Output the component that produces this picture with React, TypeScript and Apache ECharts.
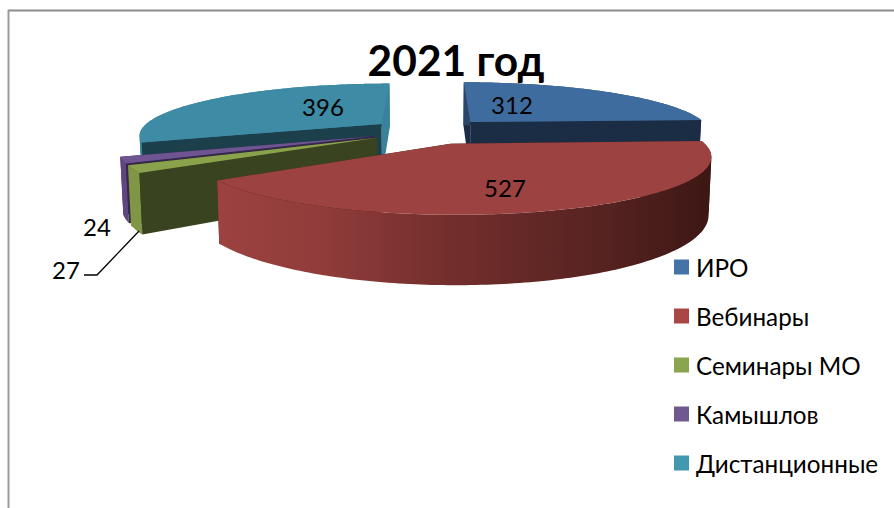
import React, { useEffect, useRef } from "react";
import * as echarts from "echarts";

const titleText = "2021 год";
const categories = ["ИРО", "Вебинары", "Семинары МО", "Камышлов", "Дистанционные"];
const values = [312, 527, 27, 24, 396];
const topColors = ["#3F6C9E", "#9C4240", "#8AA24B", "#6F5492", "#3E8BA5"];
const legendColors = ["#4572A7", "#AA4643", "#89A54E", "#71588F", "#4198AF"];
const innerColors = ["#1B2D45", "#3F1917", "#3A431F", "#35264B", "#1C3F4C"];
const outerColors = ["#2A4768", "#9C4240", "#7F9646", "#5F4680", "#3A8299"];
const paintOrder = [4, 0, 3, 2, 1];
const labelAt: number[][] = [[512, 104], [505, 187], [66, 269], [97, 226], [323, 106]];

const FONT = "Lato, 'Noto Sans', sans-serif";
const VX = 430, VY = 131, RX = 242, RY = 51, K = 0.2, H = 53, EXPLODE = 0.25;
const total = values.reduce((a, b) => a + b, 0);
const rad = (d: number) => (d * Math.PI) / 180;

function angles(i: number) {
  let s = 0;
  for (let j = 0; j < i; j++) s += values[j];
  return [(s / total) * 360, ((s + values[i]) / total) * 360];
}

function project(X: number, Z: number, bottom: boolean) {
  const s = 1 / (1 + K * Z);
  let x = VX + RX * X * s;
  let y = VY - RY * Z * s;
  if (bottom) {
    x = VX + (x - VX) * 0.99;
    y += H * s;
  }
  return [x, y];
}

function renderSlice(i: number) {
  const [a0, a1] = angles(i);
  const mid = rad((a0 + a1) / 2);
  const ox = EXPLODE * Math.sin(mid), oz = EXPLODE * Math.cos(mid);
  const rim = (deg: number, bottom: boolean) =>
    project(ox + Math.sin(rad(deg)), oz + Math.cos(rad(deg)), bottom);
  const apexTop = project(ox, oz, false);
  const apexBottom = project(ox, oz, true);
  const arcDegs: number[] = [];
  for (let d = a0; d < a1; d += 1) arcDegs.push(d);
  arcDegs.push(a1);

  const wall = (deg: number, fill: string) => ({
    type: "polygon",
    silent: true,
    shape: { points: [apexTop, rim(deg, false), rim(deg, true), apexBottom] },
    style: { fill },
  });
  const wallA0 = wall(a0, innerColors[i]);
  const wallA1 = wall(a1, i === 4 ? outerColors[4] : innerColors[i]);
  const back: any[] = [];
  const front: any[] = [];
  (Math.sin(rad(a0)) < -1e-6 ? front : back).push(wallA0);
  (Math.sin(rad(a1)) > 1e-6 ? front : back).push(wallA1);

  const outerFill: any =
    i === 1
      ? new echarts.graphic.LinearGradient(
          217, 0, 710, 0,
          [
            { offset: 0, color: "#9C4240" },
            { offset: 0.2, color: "#913D3B" },
            { offset: 0.5, color: "#702D2B" },
            { offset: 0.78, color: "#562321" },
            { offset: 1, color: "#3D1714" },
          ],
          true
        )
      : outerColors[i];

  // The wall's outline folds over at the silhouette, so cut it where x turns back.
  const pieces: number[][] = [];
  let current: number[] = [arcDegs[0]];
  for (let k = 1; k < arcDegs.length; k++) {
    current.push(arcDegs[k]);
    if (k < arcDegs.length - 1) {
      const dA = rim(arcDegs[k], false)[0] - rim(arcDegs[k - 1], false)[0];
      const dB = rim(arcDegs[k + 1], false)[0] - rim(arcDegs[k], false)[0];
      if (dA * dB < 0) {
        pieces.push(current);
        current = [arcDegs[k]];
      }
    }
  }
  pieces.push(current);
  const outer = pieces.map((degs) => ({
    type: "polygon",
    silent: true,
    shape: {
      points: [
        ...degs.map((d) => rim(d, false)),
        ...degs.slice().reverse().map((d) => rim(d, true)),
      ],
    },
    style: { fill: outerFill },
  }));

  const top = {
    type: "polygon",
    silent: true,
    shape: { points: [apexTop, ...arcDegs.map((d) => rim(d, false))] },
    style: { fill: topColors[i] },
  };
  const label = {
    type: "text",
    silent: true,
    style: {
      text: String(values[i]),
      x: labelAt[i][0],
      y: labelAt[i][1],
      fill: "#000000",
      fontFamily: FONT,
      fontSize: 24,
      align: "center",
      verticalAlign: "middle",
    },
    z2: 100,
  };
  const children: any[] = [...back, ...outer, ...front, top];
  if (i === 2) {
    const start = rim((a0 + a1) / 2, true);
    children.push({
      type: "polyline",
      silent: true,
      shape: { points: [[start[0] + 3, start[1] + 1], [97, 275], [84, 275]] },
      style: { stroke: "#000000", lineWidth: 1.3, fill: "none" },
    });
  }
  children.push(label);
  return { type: "group", children };
}

export default function App() {
  const ref = useRef<HTMLDivElement>(null);
  useEffect(() => {
    const chart = echarts.init(ref.current!, undefined, { renderer: "svg" });
    chart.setOption({
      animation: false,
      backgroundColor: "#ffffff",
      title: {
        text: titleText,
        left: 451,
        top: 33,
        textAlign: "center",
        textStyle: { fontFamily: FONT, fontSize: 42.5, fontWeight: "bold", color: "#000000" },
      },
      legend: {
        orient: "vertical",
        left: 669,
        top: 250,
        icon: "rect",
        itemWidth: 15,
        itemHeight: 15,
        itemGap: 25,
        selectedMode: false,
        textStyle: { fontFamily: FONT, fontSize: 24.25, color: "#000000", padding: [0, 0, 0, 2] },
        data: categories.map((name, i) => ({ name, itemStyle: { color: legendColors[i] } })),
      },
      graphic: [
        { type: "line", silent: true, shape: { x1: 8, y1: 10.5, x2: 894, y2: 10.5 }, style: { stroke: "#8C8C8C", lineWidth: 2 } },
        { type: "line", silent: true, shape: { x1: 8.5, y1: 10, x2: 8.5, y2: 508 }, style: { stroke: "#9A9A9A", lineWidth: 2 } },
      ],
      series: paintOrder.map((i) => ({
        type: "custom",
        name: categories[i],
        coordinateSystem: "none",
        silent: true,
        itemStyle: { color: legendColors[i] },
        data: [values[i]],
        renderItem: () => renderSlice(i),
      })),
    });
    return () => chart.dispose();
  }, []);
  return <div ref={ref} style={{ position: "absolute", left: 0, top: 0, width: 894, height: 508 }} />;
}
